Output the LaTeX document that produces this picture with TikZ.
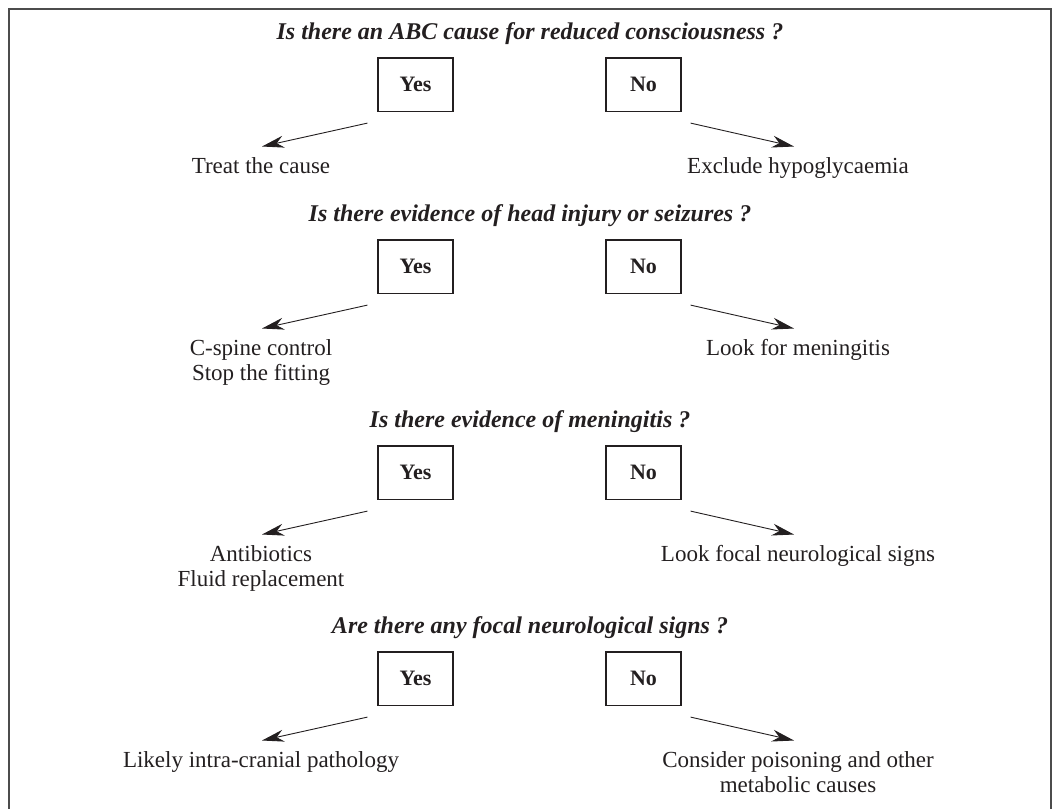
\documentclass[tikz,border=0pt]{standalone}
\usepackage{fontspec}
\setmainfont{Liberation Serif}
\usepackage{xcolor}
\usetikzlibrary{arrows.meta, positioning}

\definecolor{ink}{RGB}{35,31,32}

\begin{document}
\begin{tikzpicture}[x=1pt, y=-1pt, color=ink,
  question/.style={font=\fontsize{24}{26}\selectfont\bfseries\itshape, inner sep=0pt, anchor=base},
  answer/.style={draw, line width=1.2pt, minimum width=75pt, minimum height=53.5pt,
    inner sep=0pt, font=\fontsize{22}{24}\selectfont\bfseries},
  outcome/.style={font=\fontsize{23}{24.5}\selectfont, align=center, inner sep=0pt, anchor=north},
  arr/.style={-{Stealth[length=22pt, width=12pt, inset=7pt]}, line width=0.9pt}]

\useasboundingbox (0,0) rectangle (1053,809);

% moldura
\draw[line width=1.8pt, black!70] (9,809) -- (9,9) -- (1051,9) -- (1051,809);

% ABC
\node[question] (q1) at (530,39) {Is there an ABC cause for reduced consciousness ?};
\node[answer] (y1) at (415.5,84.75) {Yes};
\node[answer] (n1) at (643.5,84.75) {No};
\node[outcome] (a1) at (261,157.5) {Treat the cause};
\node[outcome] (b1) at (798,157.5) {Exclude hypoglycaemia};
\draw[arr] ([xshift=-10pt,yshift=-11pt]y1.south west) -- ([xshift=1pt,yshift=11pt]a1.north);
\draw[arr] ([xshift=9pt,yshift=-11pt]n1.south east) -- ([xshift=-4pt,yshift=11pt]b1.north);

% head injury / seizures
\node[question] (q2) at (530,221) {Is there evidence of head injury or seizures ?};
\node[answer] (y2) at (415.5,266.75) {Yes};
\node[answer] (n2) at (643.5,266.75) {No};
\node[outcome] (a2) at (261,339.5) {C-spine control\\Stop the fitting};
\node[outcome] (b2) at (798,339.5) {Look for meningitis};
\draw[arr] ([xshift=-10pt,yshift=-11pt]y2.south west) -- ([xshift=1pt,yshift=11pt]a2.north);
\draw[arr] ([xshift=9pt,yshift=-11pt]n2.south east) -- ([xshift=-4pt,yshift=11pt]b2.north);

% meningitis
\node[question] (q3) at (530,427) {Is there evidence of meningitis ?};
\node[answer] (y3) at (415.5,472.75) {Yes};
\node[answer] (n3) at (643.5,472.75) {No};
\node[outcome] (a3) at (261,545.5) {Antibiotics\\Fluid replacement};
\node[outcome] (b3) at (798,545.5) {Look focal neurological signs};
\draw[arr] ([xshift=-10pt,yshift=-11pt]y3.south west) -- ([xshift=1pt,yshift=11pt]a3.north);
\draw[arr] ([xshift=9pt,yshift=-11pt]n3.south east) -- ([xshift=-4pt,yshift=11pt]b3.north);

% focal signs
\node[question] (q4) at (530,633) {Are there any focal neurological signs ?};
\node[answer] (y4) at (415.5,678.75) {Yes};
\node[answer] (n4) at (643.5,678.75) {No};
\node[outcome] (a4) at (261,751.5) {Likely intra-cranial pathology};
\node[outcome] (b4) at (798,751.5) {Consider poisoning and other\\metabolic causes};
\draw[arr] ([xshift=-10pt,yshift=-11pt]y4.south west) -- ([xshift=1pt,yshift=11pt]a4.north);
\draw[arr] ([xshift=9pt,yshift=-11pt]n4.south east) -- ([xshift=-4pt,yshift=11pt]b4.north);

\end{tikzpicture}
\end{document}
